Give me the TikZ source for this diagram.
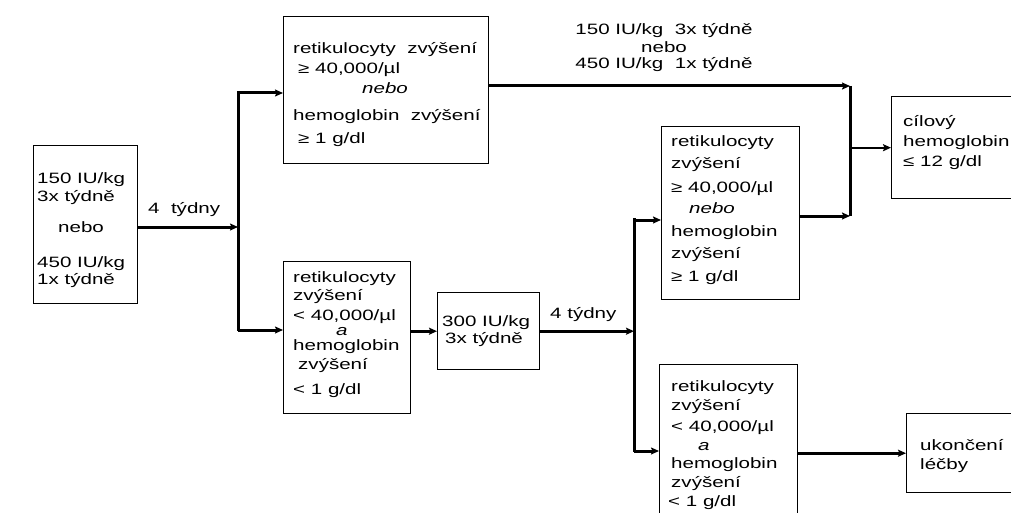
\documentclass[tikz,border=0pt]{standalone}
\usepackage{fontspec}
\setmainfont{Liberation Sans}[FakeStretch=1.37]
\usetikzlibrary{arrows.meta}
\begin{document}
\begin{tikzpicture}[x=1pt,y=-1pt,
  box/.style={draw, line width=1.4pt, inner sep=0pt, anchor=north west},
  txt/.style={inner sep=0pt, anchor=base west, font=\fontsize{15}{17}\selectfont},
  ctxt/.style={txt, anchor=base},
  conn/.style={line width=3pt},
  arr/.style={line width=3pt, -{Stealth[length=8pt,width=7pt,inset=1.5pt]}},
  thinarr/.style={line width=2pt, -{Stealth[length=8pt,width=7pt,inset=1.5pt]}},
]
\useasboundingbox (0,0) rectangle (1011,513);
\fill[white] (0,0) rectangle (1011,513);
\clip (0,0) rectangle (1011,513);

% boxes
\node[box, minimum width=104pt, minimum height=158pt] (A) at (33,145) {};
\node[box, minimum width=205pt, minimum height=147pt] (B) at (283,16) {};
\node[box, minimum width=127pt, minimum height=152pt] (C) at (283,261) {};
\node[box, minimum width=102pt, minimum height=77pt] (D) at (437,292) {};
\node[box, minimum width=138pt, minimum height=173pt] (E) at (661,126) {};
\node[box, minimum width=138pt, minimum height=160pt] (F) at (659,364) {};
\node[box, minimum width=125pt, minimum height=102pt] (G) at (891,96) {};
\node[box, minimum width=110pt, minimum height=79pt] (H) at (906,413) {};

% box A text
\node[txt] (A1) at (37,183) {150 IU/kg};
\node[txt] (A2) at (37,201) {3x týdně};
\node[txt] (A3) at (58,232) {nebo};
\node[txt] (A4) at (37,267) {450 IU/kg};
\node[txt] (A5) at (37,284) {1x týdně};

% box B text
\node[txt] (B1) at (293,54) {retikulocyty\ \ zvýšení};
\node[txt] (B2) at (298,74) {≥ 40,000/µl};
\node[txt] (B3) at (362,94) {\itshape nebo};
\node[txt] (B4) at (293,121) {hemoglobin\ \ zvýšení};
\node[txt] (B5) at (298,144) {≥ 1 g/dl};

% box C text
\node[txt] (C1) at (293,282) {retikulocyty};
\node[txt] (C2) at (293,300) {zvýšení};
\node[txt] (C3) at (293,320) {< 40,000/µl};
\node[txt] (C4) at (336,335) {\itshape a};
\node[txt] (C5) at (293,350) {hemoglobin};
\node[txt] (C6) at (298,369) {zvýšení};
\node[txt] (C7) at (293,394) {< 1 g/dl};

% box D text
\node[txt] (D1) at (442,326) {300 IU/kg};
\node[txt] (D2) at (445,343) {3x týdně};

% box E text
\node[txt] (E1) at (671,147) {retikulocyty};
\node[txt] (E2) at (671,168) {zvýšení};
\node[txt] (E3) at (671,193) {≥ 40,000/µl};
\node[txt] (E4) at (689,213) {\itshape nebo};
\node[txt] (E5) at (671,236) {hemoglobin};
\node[txt] (E6) at (671,258) {zvýšení};
\node[txt] (E7) at (671,281) {≥ 1 g/dl};

% box F text
\node[txt] (F1) at (671,391) {retikulocyty};
\node[txt] (F2) at (671,410) {zvýšení};
\node[txt] (F3) at (671,431) {< 40,000/µl};
\node[txt] (F4) at (698,450) {\itshape a};
\node[txt] (F5) at (671,468) {hemoglobin};
\node[txt] (F6) at (671,487) {zvýšení};
\node[txt] (F7) at (668,506) {< 1 g/dl};

% box G text
\node[txt] (G1) at (903,127) {cílový};
\node[txt] (G2) at (903,147) {hemoglobin};
\node[txt] (G3) at (903,167) {≤ 12 g/dl};

% box H text
\node[txt] (H1) at (920,450) {ukončení};
\node[txt] (H2) at (920,469) {léčby};

% labels
\node[txt] (L1) at (148,213) {4\ \ týdny};
\node[txt] (L2) at (550,318) {4 týdny};
\node[ctxt] (T1) at (664,35) {150 IU/kg\ \ 3x týdně};
\node[ctxt] (T2) at (664,53) {nebo};
\node[ctxt] (T3) at (664,69) {450 IU/kg\ \ 1x týdně};

% junction coordinates
\coordinate (jA) at (238,227);
\coordinate (v1t) at (238,91);
\coordinate (v1b) at (238,331);
\coordinate (b1) at (238,93);
\coordinate (c1) at (238,330);
\coordinate (v2t) at (634,218);
\coordinate (v2b) at (634,452);
\coordinate (e1) at (634,220);
\coordinate (f1) at (634,451);
\coordinate (v3t) at (850,86);
\coordinate (v3b) at (850,216);

% connectors
\draw[arr] (A.east |- jA) -- (jA);
\draw[conn] (v1t) -- (v1b);
\draw[arr] (b1) -- (b1 -| B.west);
\draw[arr] (c1) -- (c1 -| C.west);
\draw[arr] (C.east |- D.west) -- (D.west);
\draw[arr] (D.east) -- (D.east -| v2t);
\draw[conn] (v2t) -- (v2b);
\draw[arr] (e1) -- (e1 -| E.west);
\draw[arr] (f1) -- (f1 -| F.west);
\draw[arr] (B.east |- v3t) -- (v3t);
\draw[arr] (E.east |- v3b) -- (v3b);
\draw[conn] (v3t) -- (v3b);
\draw[thinarr] (G.west -| v3t) -- (G.west);
\draw[arr] (F.east |- H.west) -- (H.west);
\end{tikzpicture}
\end{document}
